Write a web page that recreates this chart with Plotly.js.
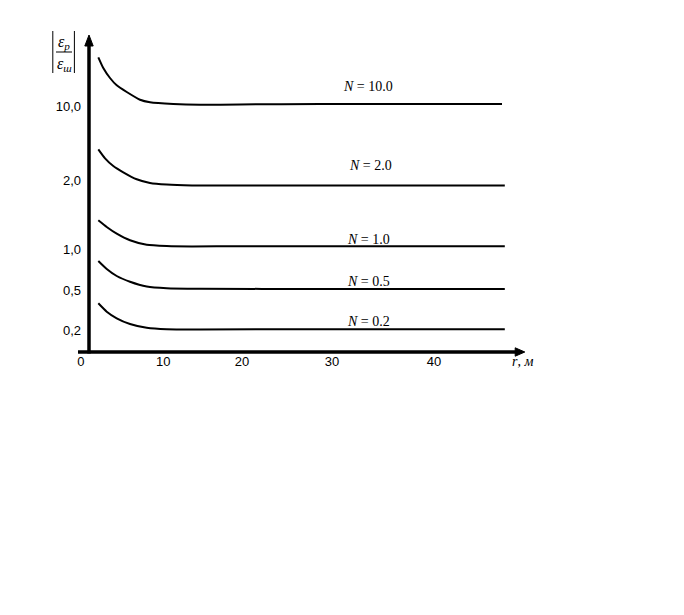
<!DOCTYPE html>
<html>
<head>
<meta charset="utf-8">
<script src="https://cdn.plot.ly/plotly-3.0.1.min.js"></script>
<style>html,body{margin:0;padding:0;background:#fff;}</style>
</head>
<body>
<div id="chart" style="width:684px;height:615px;"></div>
<script>
// Schematic chart: the axes are not to scale, values are read in axis units of the drawing.
const xTickPos = [0.1, 10.4, 20.25, 31.5, 44.25];
const xTickText = ['0', '10', '20', '30', '40'];
const yTickPos = [2.2, 6.2, 10.3, 17.2, 24.6];
const yTickText = ['0,2', '0,5', '1,0', '2,0', '10,0'];

const seriesNames = ['N = 10.0', 'N = 2.0', 'N = 1.0', 'N = 0.5', 'N = 0.2'];
const r_N10 = [2.29, 2.91, 3.75, 4.59, 5.84, 7.5, 8.75, 11.66, 15, 20, 30, 52.75];
const e_N10 = [29.47, 28.4, 27.4, 26.67, 26.0, 25.23, 24.98, 24.8, 24.72, 24.76, 24.8, 24.8];
const r_N2 = [2.29, 3.13, 4.16, 5.41, 7.09, 8.75, 10.84, 14, 20, 30, 53.1];
const e_N2 = [20.27, 19.37, 18.6, 17.97, 17.27, 16.9, 16.74, 16.66, 16.65, 16.65, 16.65];
const r_N1 = [2.29, 3.34, 4.59, 6.25, 8.34, 10.84, 14, 20, 30, 53.1];
const e_N1 = [13.17, 12.5, 11.83, 11.17, 10.72, 10.6, 10.56, 10.57, 10.58, 10.58];
const r_N05 = [2.29, 3.34, 4.59, 6.25, 8.34, 10.84, 15, 30, 53.1];
const e_N05 = [9.1, 8.3, 7.6, 7.03, 6.55, 6.38, 6.33, 6.3, 6.3];
const r_N02 = [2.29, 3.34, 4.59, 6.25, 8.34, 10.84, 15, 30, 53.1];
const e_N02 = [4.87, 4.03, 3.37, 2.8, 2.42, 2.27, 2.25, 2.28, 2.28];

const labelX = [36, 36.25, 36, 36, 36];
const labelY = [26.6, 18.7, 11.3, 7.1, 3.1];

const rs = [r_N10, r_N2, r_N1, r_N05, r_N02];
const es = [e_N10, e_N2, e_N1, e_N05, e_N02];

const traces = rs.map((r, i) => ({
  x: r, y: es[i], type: 'scatter', mode: 'lines', name: seriesNames[i],
  line: {color: '#000', width: 2, shape: 'spline', smoothing: 0.5},
  hoverinfo: 'skip'
}));

const annotations = seriesNames.map((n, i) => ({
  x: labelX[i], y: labelY[i], xref: 'x', yref: 'y', showarrow: false,
  text: '<i>N</i>' + n.slice(1),
  font: {family: 'Liberation Serif', size: 14, color: '#000'}
}));
annotations.push({
  x: 55.3, y: -0.9, xref: 'x', yref: 'y', showarrow: false,
  text: '<i>r</i>, <i>м</i>', font: {family: 'Liberation Serif', size: 14, color: '#000'}
});
annotations.push({
  x: -2, y: 31.0, xref: 'x', yref: 'y', showarrow: false,
  text: '<i>ε</i><sub><i>р</i></sub>', font: {family: 'Liberation Serif', size: 16, color: '#000'}
});
annotations.push({
  x: -2, y: 28.8, xref: 'x', yref: 'y', showarrow: false,
  text: '<i>ε</i><sub><i>ш</i></sub>', font: {family: 'Liberation Serif', size: 16, color: '#000'}
});

const shapes = [
  // vertical axis
  {type: 'line', xref: 'x', yref: 'y', x0: 1.125, x1: 1.125, y0: -0.15, y1: 30.8, line: {color: '#000', width: 3.5}},
  {type: 'path', xref: 'x', yref: 'y', path: 'M 0.6 30.6 L 1.125 31.7 L 1.65 30.6 Z', fillcolor: '#000', line: {color: '#000', width: 1}},
  // horizontal axis
  {type: 'line', xref: 'x', yref: 'y', x0: -0.25, x1: 54.6, y0: 0, y1: 0, line: {color: '#000', width: 3.5}},
  {type: 'path', xref: 'x', yref: 'y', path: 'M 54.4 0.42 L 55.6 0 L 54.4 -0.42 Z', fillcolor: '#000', line: {color: '#000', width: 1}},
  // |fraction| bars
  {type: 'line', xref: 'x', yref: 'y', x0: -3.4, x1: -3.4, y0: 27.9, y1: 32.1, line: {color: '#000', width: 1}},
  {type: 'line', xref: 'x', yref: 'y', x0: -0.7, x1: -0.7, y0: 27.9, y1: 32.1, line: {color: '#000', width: 1}},
  {type: 'line', xref: 'x', yref: 'y', x0: -3.0, x1: -1.0, y0: 30.0, y1: 30.0, line: {color: '#000', width: 1}}
];

const layout = {
  width: 684, height: 615,
  margin: {l: 40, r: 124, t: 20, b: 253},
  paper_bgcolor: '#fff', plot_bgcolor: '#fff',
  showlegend: false,
  xaxis: {
    range: [-5, 60], showgrid: false, zeroline: false, showline: false,
    tickmode: 'array', tickvals: xTickPos, ticktext: xTickText, ticks: '',
    anchor: 'free', position: 10 / 342,
    tickfont: {family: 'Liberation Sans', size: 13, color: '#000'}
  },
  yaxis: {
    range: [-1, 33.2], showgrid: false, zeroline: false, showline: false,
    tickmode: 'array', tickvals: yTickPos, ticktext: yTickText, ticks: '',
    anchor: 'free', position: 49 / 520, ticklabelstandoff: 8,
    tickfont: {family: 'Liberation Sans', size: 13, color: '#000'}
  },
  shapes: shapes,
  annotations: annotations
};

Plotly.newPlot('chart', traces, layout, {displayModeBar: false, staticPlot: true});
</script>
</body>
</html>
